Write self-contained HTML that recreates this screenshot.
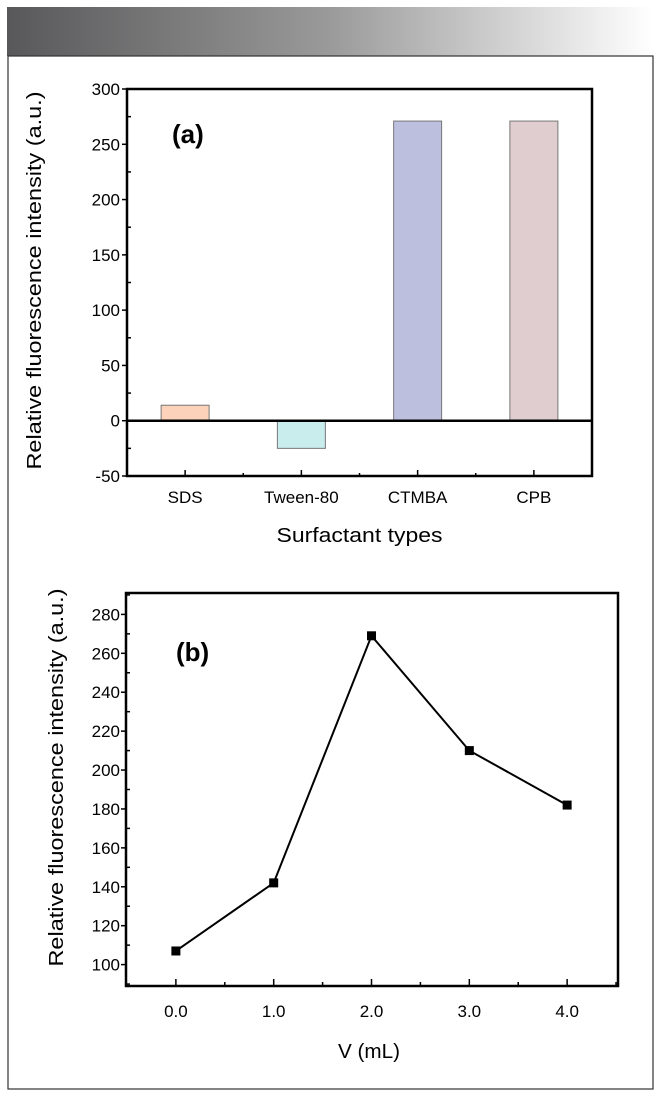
<!DOCTYPE html>
<html><head><meta charset="utf-8"><style>
html,body{margin:0;padding:0;background:#fff;}
svg{display:block;font-family:"Liberation Sans",sans-serif;}
</style></head><body>
<svg width="660" height="1096" viewBox="0 0 660 1096" xmlns="http://www.w3.org/2000/svg">
<defs><linearGradient id="hg" x1="0" x2="1" y1="0" y2="0"><stop offset="0" stop-color="#58585a"/><stop offset="0.5" stop-color="#9a9a9a"/><stop offset="1" stop-color="#ffffff"/></linearGradient></defs>
<rect x="7" y="7" width="646" height="49" fill="url(#hg)"/>
<rect x="8" y="56" width="645" height="1033" fill="none" stroke="#333" stroke-width="1.2"/>
<g id="ca"></g>
<g id="cb"></g>
</svg>
<script>
const catsA=["SDS","Tween-80","CTMBA","CPB"];
const valsA=[14,-25,271,271];
const colorsA=["#fcd2bb","#c9ecec","#bdbfdf","#e0cdcf"];
const ticksA=[-50,0,50,100,150,200,250,300];
const xsB=[0,1,2,3,4];
const valsB=[107,142,269,210,182];
const ticksBy=[100,120,140,160,180,200,220,240,260,280];
const ticksBx=[0,1,2,3,4];
const ticksBxLbl=["0.0","1.0","2.0","3.0","4.0"];
const NS="http://www.w3.org/2000/svg";
function mk(p,t,a,txt){const e=document.createElementNS(NS,t);for(const k in a)e.setAttribute(k,a[k]);if(txt!==undefined)e.textContent=txt;p.appendChild(e);return e;}
// Chart A
(function(){
const g=document.getElementById('ca');
const L=127,R=592,T=89,B=476,ymin=-50,ymax=300;
const y=v=>B-(v-ymin)/(ymax-ymin)*(B-T);
const bw=(R-L)/catsA.length;
const x=i=>L+bw*(i+0.5);
valsA.forEach((v,i)=>{const r=mk(g,'rect',{x:x(i)-24,y:Math.min(y(v),y(0)),width:48,height:Math.abs(y(v)-y(0)),fill:colorsA[i],stroke:'#777','stroke-width':1});

});
const z=mk(g,'line',{x1:L,x2:R,y1:y(0),y2:y(0),stroke:'#000','stroke-width':2.5});

ticksA.forEach(t=>{mk(g,'line',{x1:L-5,x2:L,y1:y(t),y2:y(t),stroke:'#000','stroke-width':1.5});
const l=mk(g,'text',{x:L-7,y:y(t)+6,'text-anchor':'end','font-size':17},String(t));
});
for(let i=0;i<ticksA.length-1;i++){const m=(ticksA[i]+ticksA[i+1])/2;mk(g,'line',{x1:L,x2:L+4,y1:y(m),y2:y(m),stroke:'#000','stroke-width':1.5});}
catsA.forEach((c,i)=>{mk(g,'line',{x1:x(i),x2:x(i),y1:B,y2:B-6,stroke:'#000','stroke-width':1.5});
if(i<catsA.length-1)mk(g,'line',{x1:L+bw*(i+1),x2:L+bw*(i+1),y1:B,y2:B-3,stroke:'#000','stroke-width':1.5});
const l=mk(g,'text',{x:x(i),y:B+27,'text-anchor':'middle','font-size':17},c);
});
const f=mk(g,'rect',{x:L,y:T,width:R-L,height:B-T,fill:'none',stroke:'#000','stroke-width':2.5});

const p=mk(g,'text',{x:172,y:143,'font-size':26,'font-weight':'bold'},'(a)');

const xt=mk(g,'text',{x:(L+R)/2,y:542,'text-anchor':'middle','font-size':20,textLength:166,lengthAdjust:'spacingAndGlyphs'},'Surfactant types');

const yt=mk(g,'text',{x:0,y:0,transform:`translate(41,${(T+B)/2-2}) rotate(-90)`,'text-anchor':'middle','font-size':20,textLength:378,lengthAdjust:'spacingAndGlyphs'},'Relative fluorescence intensity (a.u.)');

})();
// Chart B
(function(){
const g=document.getElementById('cb');
const L=126,R=618,T=593,B=986,ymin=89,ymax=291,xmin=-0.51,xmax=4.52;
const y=v=>B-(v-ymin)/(ymax-ymin)*(B-T);
const x=v=>L+(v-xmin)/(xmax-xmin)*(R-L);
ticksBy.forEach(t=>{mk(g,'line',{x1:L-5,x2:L,y1:y(t),y2:y(t),stroke:'#000','stroke-width':1.5});
const l=mk(g,'text',{x:L-6,y:y(t)+6,'text-anchor':'end','font-size':17},String(t));

if(t+10<ymax)mk(g,'line',{x1:L,x2:L+4,y1:y(t+10),y2:y(t+10),stroke:'#000','stroke-width':1.5});});
mk(g,'line',{x1:L,x2:L+4,y1:y(90),y2:y(90),stroke:'#000','stroke-width':1.5});
ticksBx.forEach((t,i)=>{mk(g,'line',{x1:x(t),x2:x(t),y1:B,y2:B-7,stroke:'#000','stroke-width':1.5});
mk(g,'line',{x1:x(t+0.5),x2:x(t+0.5),y1:B,y2:B-4,stroke:'#000','stroke-width':1.5});
const l=mk(g,'text',{x:x(t),y:B+31,'text-anchor':'middle','font-size':17},ticksBxLbl[i]);
});
const ln=mk(g,'polyline',{points:xsB.map((v,i)=>x(v)+','+y(valsB[i])).join(' '),fill:'none',stroke:'#000','stroke-width':2});

xsB.forEach((v,i)=>{const m=mk(g,'rect',{x:x(v)-4.5,y:y(valsB[i])-4.5,width:9,height:9,fill:'#000'});
});
const f=mk(g,'rect',{x:L,y:T,width:R-L,height:B-T,fill:'none',stroke:'#000','stroke-width':2.5});

const p=mk(g,'text',{x:176,y:661,'font-size':26,'font-weight':'bold'},'(b)');

const xt=mk(g,'text',{x:(L+R)/2-3,y:1058,'text-anchor':'middle','font-size':20,textLength:62,lengthAdjust:'spacingAndGlyphs'},'V (mL)');

const yt=mk(g,'text',{x:0,y:0,transform:`translate(63,${(T+B)/2-12}) rotate(-90)`,'text-anchor':'middle','font-size':20,textLength:378,lengthAdjust:'spacingAndGlyphs'},'Relative fluorescence intensity (a.u.)');

})();
</script>
</body></html>
